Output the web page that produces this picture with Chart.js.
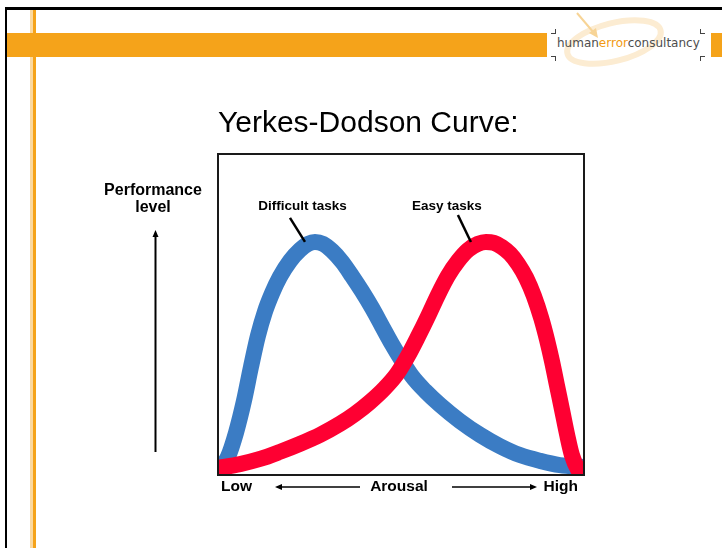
<!DOCTYPE html>
<html>
<head>
<meta charset="utf-8">
<script src="https://cdn.jsdelivr.net/npm/chart.js@4.4.0/dist/chart.umd.min.js"></script>
<style>
html,body{margin:0;padding:0;background:#fff;}
#slide{position:relative;width:722px;height:548px;overflow:hidden;background:#fff;}
#c{position:absolute;left:0;top:0;}
.blk{position:absolute;background:#000;}
.org{position:absolute;background:#f5a31a;}
.mark{position:absolute;width:4px;height:4px;border:0 solid #444;}
#logo{position:absolute;left:557px;top:37px;font:12px/12px "DejaVu Sans",sans-serif;color:#4d4d4d;white-space:nowrap;}
#logo b{font-weight:normal;color:#f29a12;}
</style>
</head>
<body>
<div id="slide">
  <!-- slide chrome -->
  <div class="blk" style="left:5px;top:7px;right:0;height:3px"></div>
  <div class="blk" style="left:5px;top:7px;width:2px;bottom:0"></div>
  <div class="org" style="left:30px;top:10px;width:3px;bottom:0;background:#fbd9a0"></div>
  <div class="org" style="left:33px;top:10px;width:3px;bottom:0"></div>
  <div class="org" style="left:7px;top:33px;width:540px;height:24px"></div>
  <div class="org" style="left:711px;top:33px;width:11px;height:24px"></div>
  <svg style="position:absolute;left:540px;top:0" width="182" height="75">
    <ellipse cx="74" cy="42" rx="48" ry="19" fill="none" stroke="#fcecd2" stroke-width="6" transform="rotate(-14 74 42)"/>
    <line x1="37" y1="13" x2="54" y2="33" stroke="#f7d496" stroke-width="2"/>
    <polygon points="58,38 49,33 56,28" fill="#f7d496"/>
  </svg>
  <div class="mark" style="left:551px;top:29px;border-right-width:1.5px;border-bottom-width:1.5px"></div>
  <div class="mark" style="left:700px;top:29px;border-left-width:1.5px;border-bottom-width:1.5px"></div>
  <div class="mark" style="left:551px;top:56px;border-right-width:1.5px;border-top-width:1.5px"></div>
  <div class="mark" style="left:700px;top:56px;border-left-width:1.5px;border-top-width:1.5px"></div>
  <div id="logo">human<b>error</b>consultancy</div>
  <canvas id="c" width="722" height="548"></canvas>
</div>
<script>
// Yerkes-Dodson curve, values (x: arousal 0-100, y: performance 0-100)
const chartTitle = 'Yerkes-Dodson Curve:';
const seriesNames = ['Difficult tasks', 'Easy tasks'];
const xAxisLabels = ['Low', 'Arousal', 'High'];
const yAxisLabel = ['Performance', 'level'];

const difficultX = [0, 1.1, 2.7, 4.9, 7.1, 9.0, 10.9, 12.8, 14.8, 16.9, 19.7, 22.4, 24.6, 26.5, 28.7, 31.2, 33.9, 36.6, 39.3, 42.1, 44.8, 47.5, 50.3, 53.0, 56.6, 60.7, 66.1, 71.6, 77.0, 82.5, 88.0, 93.4, 100];
const difficultY = [0.9, 2.8, 5.6, 13.1, 23.1, 33.6, 43.3, 50.8, 56.7, 61.7, 66.7, 70.1, 72.0, 72.6, 72.0, 69.8, 66.4, 62.0, 57.3, 52.0, 46.4, 40.8, 35.5, 30.8, 26.2, 21.8, 16.8, 12.5, 9.0, 6.2, 4.4, 3.1, 2.5];

const easyX = [0, 6.0, 11.5, 16.9, 22.4, 27.9, 33.3, 37.4, 41.5, 45.6, 48.9, 51.9, 54.6, 57.4, 60.1, 62.8, 65.6, 68.3, 71.0, 73.2, 75.4, 77.6, 79.8, 82.0, 84.2, 86.3, 88.3, 89.9, 91.3, 92.6, 94.0, 95.4, 96.7, 98.4, 100];
const easyY = [2.2, 3.4, 5.0, 7.2, 9.7, 12.5, 15.9, 19.0, 22.7, 27.1, 31.5, 37.1, 43.0, 49.5, 56.1, 62.0, 66.7, 70.1, 72.0, 72.6, 72.3, 71.0, 68.9, 65.7, 61.4, 55.8, 48.9, 42.1, 35.2, 28.0, 20.3, 12.5, 6.2, 1.6, -0.9];

const toPoints = (xs, ys) => xs.map((v, i) => ({x: v, y: ys[i]}));

function arrow(ctx, x1, y1, x2, y2){
  const ang = Math.atan2(y2 - y1, x2 - x1);
  ctx.beginPath(); ctx.moveTo(x1, y1); ctx.lineTo(x2 - 5*Math.cos(ang), y2 - 5*Math.sin(ang)); ctx.stroke();
  ctx.beginPath();
  ctx.moveTo(x2, y2);
  ctx.lineTo(x2 - 7*Math.cos(ang) + 3*Math.sin(ang), y2 - 7*Math.sin(ang) - 3*Math.cos(ang));
  ctx.lineTo(x2 - 7*Math.cos(ang) - 3*Math.sin(ang), y2 - 7*Math.sin(ang) + 3*Math.cos(ang));
  ctx.closePath(); ctx.fill();
}

// frame, title, labels and leader lines
const slideText = {
  id: 'slideText',
  afterDatasetsDraw(chart){
    const {ctx, chartArea: a, scales: {x, y}} = chart;
    const font = '"Liberation Sans", Arial, sans-serif';
    ctx.save();
    ctx.strokeStyle = '#1a1a1a'; ctx.lineWidth = 2;
    ctx.strokeRect(a.left, a.top, a.right - a.left, a.bottom - a.top);

    ctx.fillStyle = '#000'; ctx.strokeStyle = '#000';
    ctx.textBaseline = 'alphabetic';
    ctx.font = '30px ' + font; ctx.textAlign = 'left';
    ctx.fillText(chartTitle, a.left, a.top - 22);

    // series labels pointing at each peak
    const offs = [{tx: -12.5, lx: -25, ly: -24, ex: -10}, {tx: -39, lx: -28, ly: -27, ex: -15}];
    ctx.font = 'bold 13.5px ' + font; ctx.textAlign = 'center'; ctx.lineWidth = 2.5;
    chart.data.datasets.forEach((ds, i) => {
      const peak = ds.data.reduce((m, p) => p.y > m.y ? p : m, ds.data[0]);
      const px = x.getPixelForValue(peak.x), py = y.getPixelForValue(peak.y);
      const o = offs[i];
      ctx.fillText(seriesNames[i], px + o.tx, py - 32);
      ctx.beginPath(); ctx.moveTo(px + o.lx, py + o.ly); ctx.lineTo(px + o.ex, py); ctx.stroke();
    });

    // y axis label and arrow
    ctx.font = 'bold 16px ' + font;
    ctx.fillText(yAxisLabel[0], a.left - 65, a.top + 41);
    ctx.fillText(yAxisLabel[1], a.left - 65, a.top + 58);
    ctx.lineWidth = 2;
    arrow(ctx, a.left - 62.5, a.bottom - 23, a.left - 62.5, a.top + 76);

    // x axis labels and arrows
    ctx.font = 'bold 15.5px ' + font;
    const by = a.bottom + 16;
    ctx.textAlign = 'left'; ctx.fillText(xAxisLabels[0], a.left + 3, by);
    ctx.textAlign = 'center'; ctx.fillText(xAxisLabels[1], (a.left + a.right)/2 - 2, by);
    ctx.textAlign = 'right'; ctx.fillText(xAxisLabels[2], a.right - 6, by);
    ctx.lineWidth = 1.5;
    arrow(ctx, a.left + 142, a.bottom + 12, a.left + 57, a.bottom + 12);
    arrow(ctx, a.left + 234, a.bottom + 12, a.right - 47, a.bottom + 12);
    ctx.restore();
  }
};

new Chart(document.getElementById('c'), {
  type: 'line',
  data: {
    datasets: [
      {label: seriesNames[0], data: toPoints(difficultX, difficultY), borderColor: '#3b7cc4', order: 1},
      {label: seriesNames[1], data: toPoints(easyX, easyY), borderColor: '#fe0032', order: 0}
    ]
  },
  options: {
    responsive: false,
    animation: false,
    layout: {padding: {left: 218, top: 154, right: 138, bottom: 73}},
    datasets: {line: {borderWidth: 16, pointRadius: 0, cubicInterpolationMode: 'monotone', borderCapStyle: 'round', borderJoinStyle: 'round', clip: 0, fill: false}},
    plugins: {legend: {display: false}, tooltip: {enabled: false}, title: {display: false}},
    scales: {
      x: {type: 'linear', min: 0, max: 100, display: false},
      y: {min: 0, max: 100, display: false}
    }
  },
  plugins: [slideText]
});
</script>
</body>
</html>
